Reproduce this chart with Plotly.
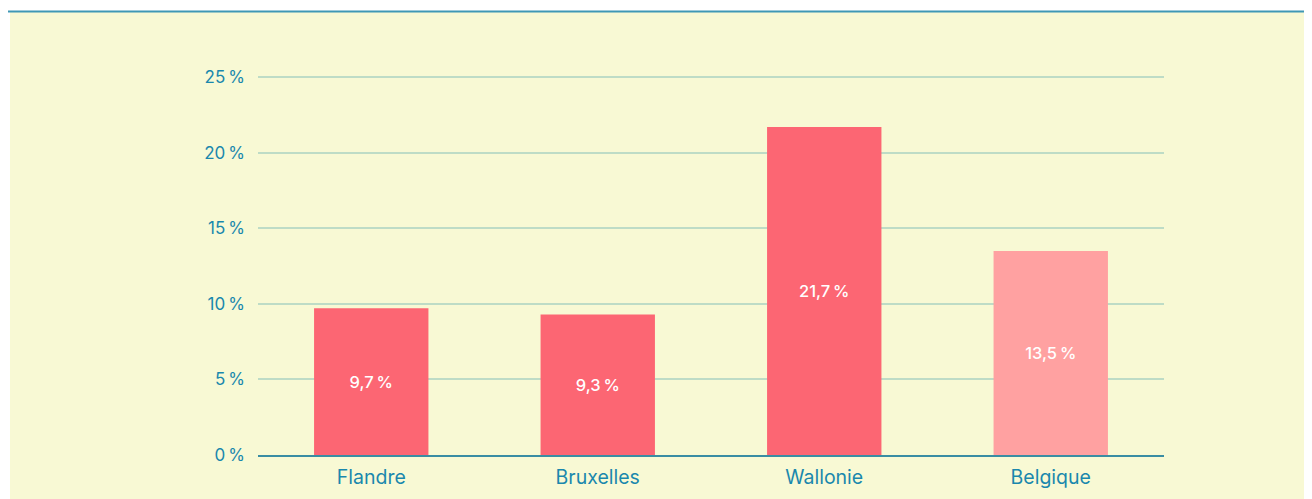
import plotly.graph_objects as go

categories = ["Flandre", "Bruxelles", "Wallonie", "Belgique"]
values = [9.7, 9.3, 21.7, 13.5]
labels = ["9,7\u202f%", "9,3\u202f%", "21,7\u202f%", "13,5\u202f%"]
bar_colors = ["#FC6673", "#FC6673", "#FC6673", "#FFA1A1"]
tick_vals = [0, 5, 10, 15, 20, 25]
tick_text = ["0\u202f%", "5\u202f%", "10\u202f%", "15\u202f%", "20\u202f%", "25\u202f%"]

# page body has an 8px default margin
OFF = 8
W, H = 1312 - OFF, 499 - OFF
L = 258 - OFF
T = 76 - OFF
R = W - (1164 - OFF)
B = H - (455 - OFF)
pw, ph = W - L - R, H - T - B

def px(x):
    return (x - OFF - L) / pw

def py(y):
    return (H - B - (y - OFF)) / ph

fig = go.Figure(go.Bar(
    x=categories, y=values, text=labels,
    textposition="inside", insidetextanchor="middle",
    textfont=dict(color="white", size=16.5, family="Inter", weight=500),
    marker=dict(color=bar_colors, line=dict(width=0)),
    width=0.505, cliponaxis=False,
))

fig.add_shape(type="rect", xref="paper", yref="paper",
              x0=px(10), x1=px(1320), y0=py(510), y1=py(12),
              fillcolor="#F8F9D4", line=dict(width=0), layer="below")
fig.add_shape(type="line", xref="paper", yref="paper",
              x0=px(7), x1=px(1320), y0=py(11.5), y1=py(11.5),
              line=dict(color="#3F98B5", width=2), layer="below")

fig.update_layout(
    width=W, height=H,
    margin=dict(l=L, r=R, t=T, b=B, pad=0, autoexpand=False),
    paper_bgcolor="white", plot_bgcolor="rgba(0,0,0,0)",
    showlegend=False,
    font=dict(family="Inter", color="#1A88AD"),
    uniformtext=dict(minsize=8, mode="show"),
)
fig.update_xaxes(showgrid=False, showline=True, linecolor="#3A8DA3", linewidth=2,
                 automargin=False,
                 ticks="", tickfont=dict(size=19.5, color="#1A88AD"), ticklabelstandoff=4)
fig.update_yaxes(range=[0, 25.07], tickvals=tick_vals, ticktext=tick_text,
                 automargin=False,
                 showgrid=True, gridcolor="#BEDCC6", gridwidth=1.5,
                 zeroline=False, showline=False, ticks="",
                 tickfont=dict(size=17, color="#1A88AD"), ticklabelstandoff=12)

fig.write_html("out.html")
